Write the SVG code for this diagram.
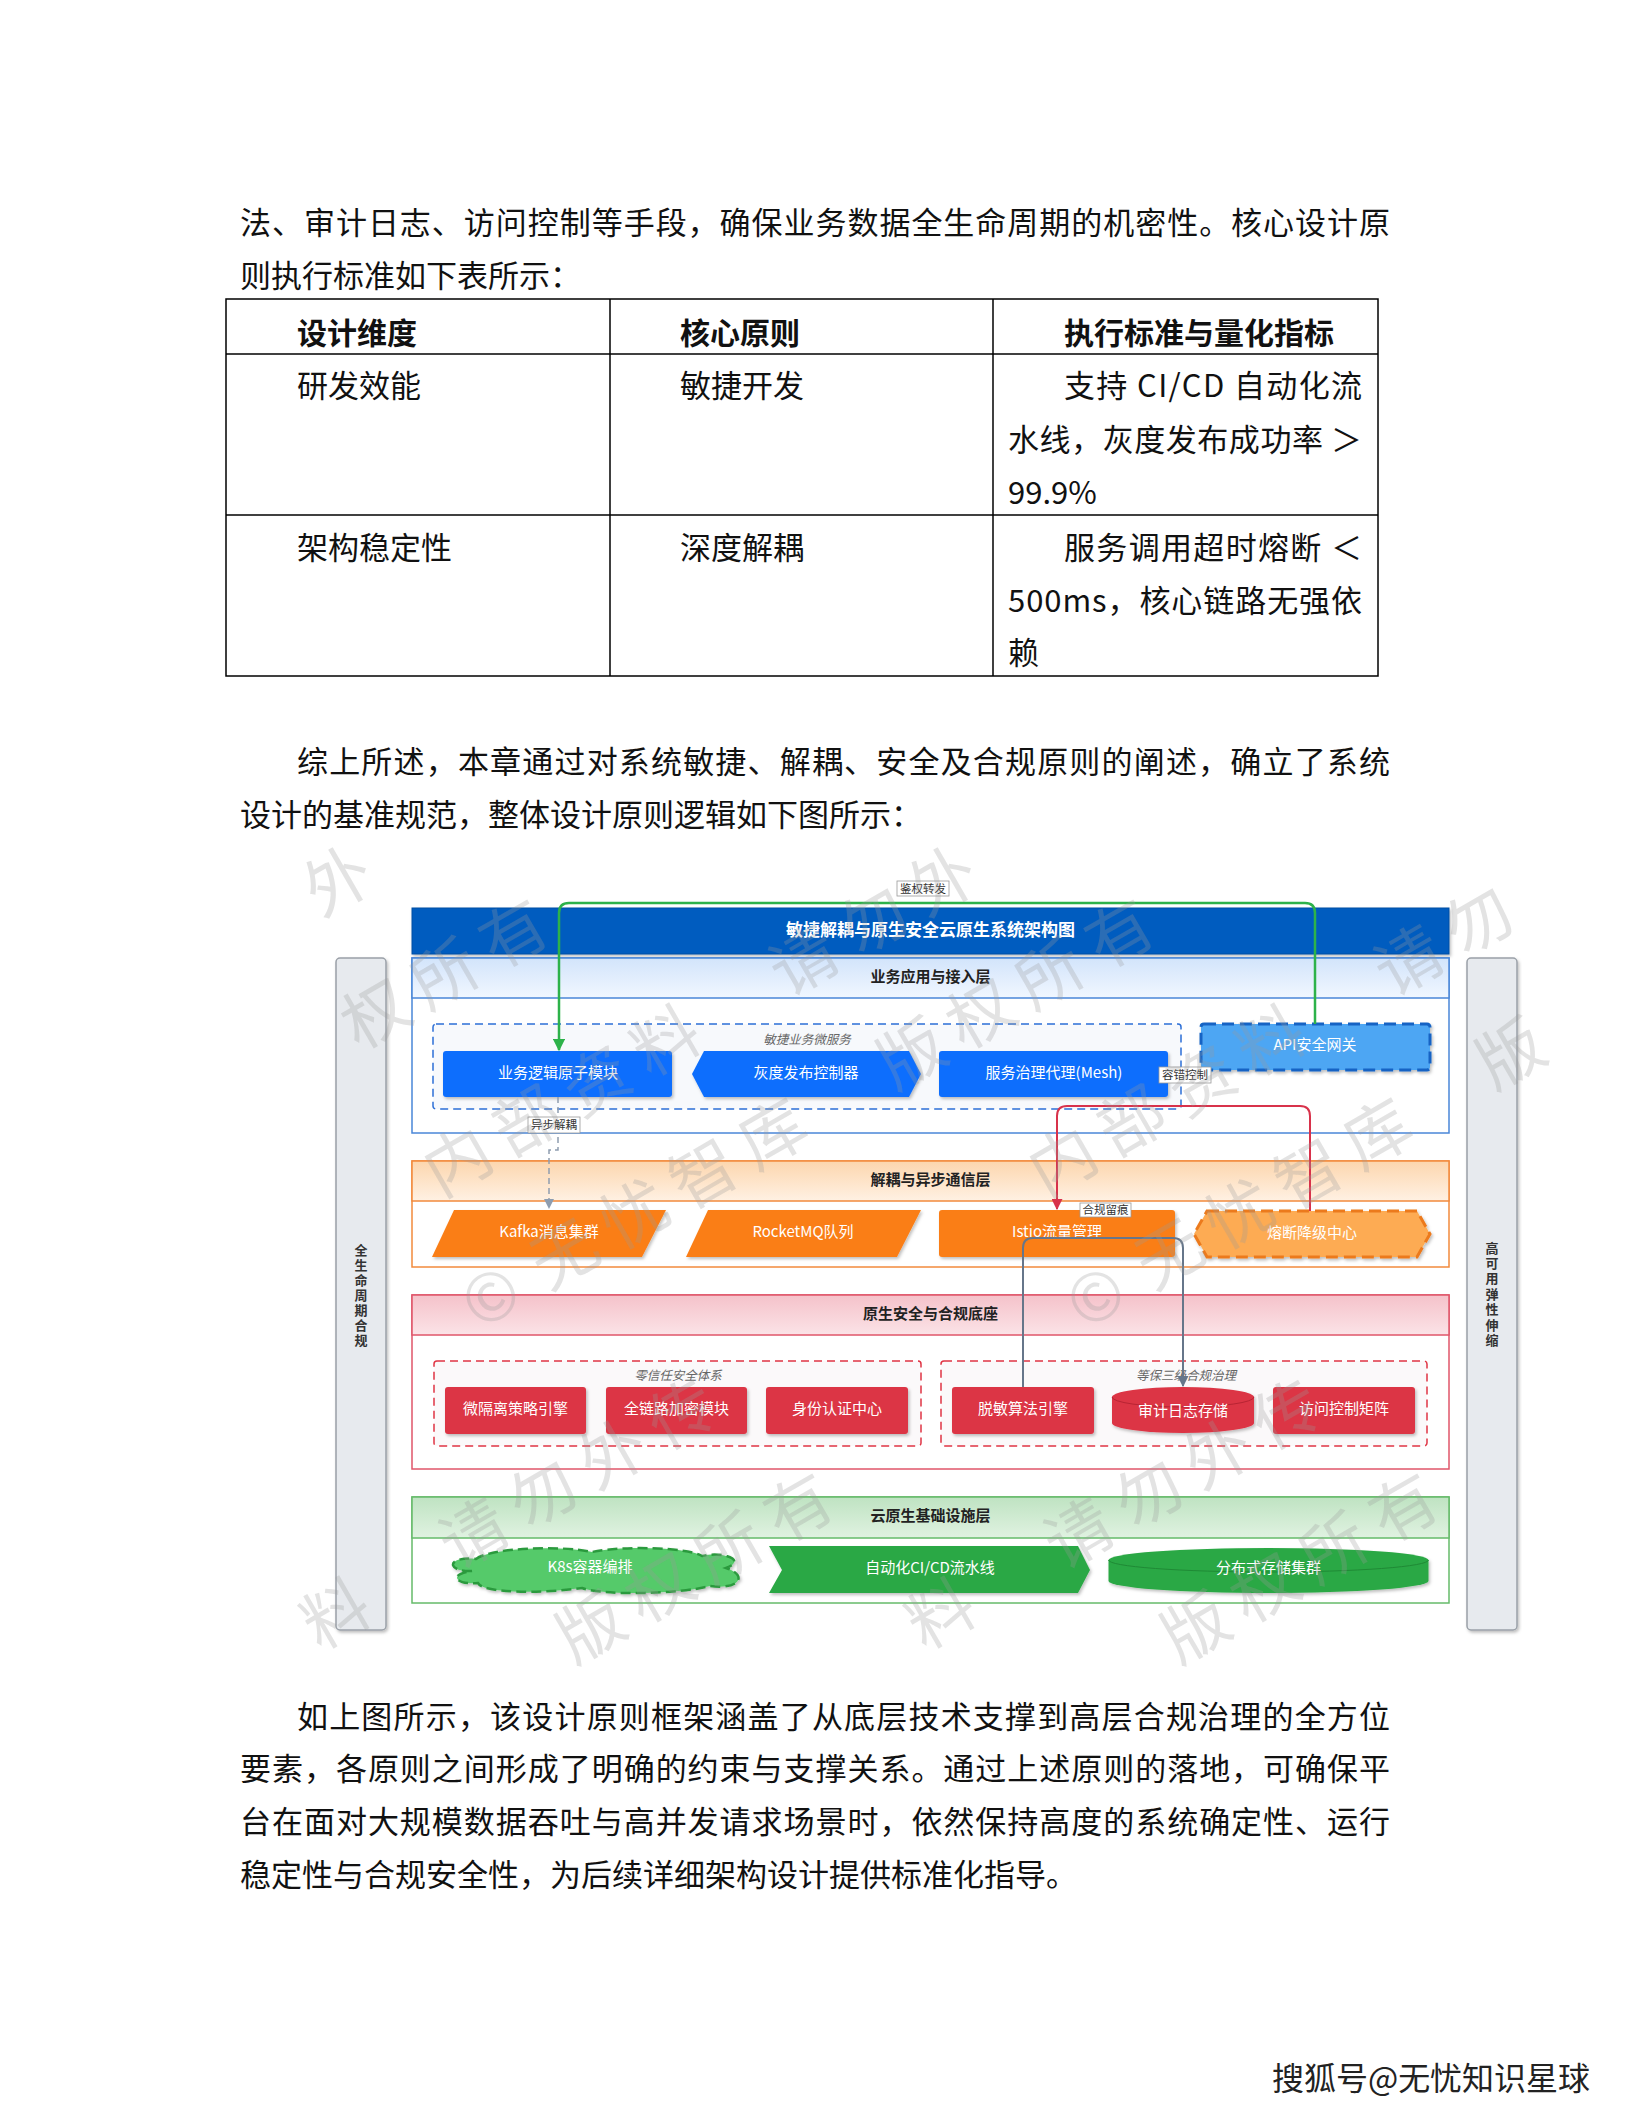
<svg xmlns="http://www.w3.org/2000/svg" width="1632" height="2112" viewBox="0 0 1632 2112">
<style>
.pg{font-family:'Noto Sans CJK SC','Noto Sans',sans-serif;font-size:31px;fill:#111}
.th{font-family:'Noto Sans CJK SC','Noto Sans',sans-serif;font-size:30px;font-weight:bold;fill:#111}
.d{font-family:'Noto Sans CJK SC','Noto Sans',sans-serif}
.nt{font-size:15px;fill:#fff;text-anchor:middle;dominant-baseline:central}
.lh{font-size:15px;font-weight:bold;fill:#222;text-anchor:middle;dominant-baseline:central}
.gl{font-size:12.5px;font-style:italic;fill:#666;text-anchor:middle;dominant-baseline:central}
.el{font-size:11.5px;fill:#333;text-anchor:middle;dominant-baseline:central}
.elb{fill:#fff;stroke:#9a9a9a;stroke-width:0.8}
.vt{font-size:13px;font-weight:bold;fill:#333;text-anchor:middle;dominant-baseline:central}
.blue{fill:#0d6efd}
.red{fill:#dc3545}
.org{fill:#fa7e17}
.grn{fill:#2ba845}
.wm{font-family:'Noto Sans CJK SC',sans-serif;font-size:66px;fill:#9a9a9a;fill-opacity:0.28}
</style>
<defs>
<filter id="sh" x="-10%" y="-20%" width="120%" height="150%"><feDropShadow dx="1.5" dy="2" stdDeviation="1.5" flood-color="#000" flood-opacity="0.25"/></filter>
<linearGradient id="gB" x1="0" y1="0" x2="0" y2="1"><stop offset="0" stop-color="#d2e4fb"/><stop offset="1" stop-color="#f1f7ff"/></linearGradient>
<linearGradient id="gO" x1="0" y1="0" x2="0" y2="1"><stop offset="0" stop-color="#fcd6ae"/><stop offset="1" stop-color="#fff1e3"/></linearGradient>
<linearGradient id="gR" x1="0" y1="0" x2="0" y2="1"><stop offset="0" stop-color="#f5c2ca"/><stop offset="1" stop-color="#fbe3e7"/></linearGradient>
<linearGradient id="gG" x1="0" y1="0" x2="0" y2="1"><stop offset="0" stop-color="#bfe3c2"/><stop offset="1" stop-color="#e0f2e1"/></linearGradient>
<marker id="aG" viewBox="0 0 10 10" refX="9" refY="5" markerWidth="5" markerHeight="5" orient="auto"><path d="M0,0 L10,5 L0,10 z" fill="#2db24a"/></marker>
<marker id="aR" viewBox="0 0 10 10" refX="9" refY="5" markerWidth="5.5" markerHeight="5.5" orient="auto"><path d="M0,0 L10,5 L0,10 z" fill="#d8324b"/></marker>
<marker id="aS" viewBox="0 0 10 10" refX="9" refY="5" markerWidth="5.5" markerHeight="5.5" orient="auto"><path d="M0,0 L10,5 L0,10 z" fill="#66768a"/></marker>
<marker id="aD" viewBox="0 0 10 10" refX="9" refY="5" markerWidth="7" markerHeight="7" orient="auto"><path d="M0,0 L10,5 L0,10 z" fill="#8e9db0"/></marker>
</defs>
<rect width="1632" height="2112" fill="#fff"/>

<g id="page-text">
<text class="pg" x="240" y="234" textLength="1150" lengthAdjust="spacing">法、审计日志、访问控制等手段，确保业务数据全生命周期的机密性。核心设计原</text>
<text class="pg" x="240" y="287">则执行标准如下表所示：</text>
<text class="pg" x="297" y="773" textLength="1093" lengthAdjust="spacing">综上所述，本章通过对系统敏捷、解耦、安全及合规原则的阐述，确立了系统</text>
<text class="pg" x="240" y="826">设计的基准规范，整体设计原则逻辑如下图所示：</text>
<text class="pg" x="297" y="1728" textLength="1093" lengthAdjust="spacing">如上图所示，该设计原则框架涵盖了从底层技术支撑到高层合规治理的全方位</text>
<text class="pg" x="240" y="1780" textLength="1150" lengthAdjust="spacing">要素，各原则之间形成了明确的约束与支撑关系。通过上述原则的落地，可确保平</text>
<text class="pg" x="240" y="1833" textLength="1150" lengthAdjust="spacing">台在面对大规模数据吞吐与高并发请求场景时，依然保持高度的系统确定性、运行</text>
<text class="pg" x="240" y="1886">稳定性与合规安全性，为后续详细架构设计提供标准化指导。</text>
</g>

<g id="table">
<rect x="226" y="299" width="1152" height="377" fill="none" stroke="#000" stroke-width="1.5"/>
<line x1="226" y1="354" x2="1378" y2="354" stroke="#000" stroke-width="1.5"/>
<line x1="226" y1="515" x2="1378" y2="515" stroke="#000" stroke-width="1.5"/>
<line x1="610" y1="299" x2="610" y2="676" stroke="#000" stroke-width="1.5"/>
<line x1="993" y1="299" x2="993" y2="676" stroke="#000" stroke-width="1.5"/>
<text class="th" x="297" y="344">设计维度</text>
<text class="th" x="680" y="344">核心原则</text>
<text class="th" x="1064" y="344">执行标准与量化指标</text>
<text class="pg" x="297" y="397">研发效能</text>
<text class="pg" x="680" y="397">敏捷开发</text>
<text class="pg" x="1064" y="397" textLength="298" lengthAdjust="spacing">支持 CI/CD 自动化流</text>
<text class="pg" x="1008" y="451" textLength="354" lengthAdjust="spacing">水线，灰度发布成功率 ＞</text>
<text class="pg" x="1008" y="504">99.9%</text>
<text class="pg" x="297" y="559">架构稳定性</text>
<text class="pg" x="680" y="559">深度解耦</text>
<text class="pg" x="1064" y="559" textLength="298" lengthAdjust="spacing">服务调用超时熔断 ＜</text>
<text class="pg" x="1008" y="612" textLength="354" lengthAdjust="spacing">500ms，核心链路无强依</text>
<text class="pg" x="1008" y="664">赖</text>
</g>

<g id="diagram" class="d">
<g id="side-left"><rect x="336" y="958" width="50" height="672" rx="4" fill="#e7eaee" stroke="#9aa0a8" stroke-width="1.5" filter="url(#sh)"/>
<text class="vt" x="361" y="1249">全</text><text class="vt" x="361" y="1264">生</text><text class="vt" x="361" y="1279">命</text><text class="vt" x="361" y="1294">周</text><text class="vt" x="361" y="1309">期</text><text class="vt" x="361" y="1324">合</text><text class="vt" x="361" y="1339">规</text></g>
<g id="side-right"><rect x="1467" y="958" width="50" height="672" rx="4" fill="#e7eaee" stroke="#9aa0a8" stroke-width="1.5" filter="url(#sh)"/>
<text class="vt" x="1492" y="1247">高</text><text class="vt" x="1492" y="1262">可</text><text class="vt" x="1492" y="1277">用</text><text class="vt" x="1492" y="1293">弹</text><text class="vt" x="1492" y="1308">性</text><text class="vt" x="1492" y="1324">伸</text><text class="vt" x="1492" y="1339">缩</text></g>

<g id="title"><rect x="412" y="908" width="1037" height="46" fill="#065bbf" stroke="#064ea3" stroke-width="1" filter="url(#sh)"/>
<text x="930.5" y="928" font-size="17" font-weight="bold" fill="#fff" text-anchor="middle" dominant-baseline="central">敏捷解耦与原生安全云原生系统架构图</text></g>

<g id="layer-app"><rect x="412" y="958" width="1037" height="175" fill="#fff" stroke="#4a86d8" stroke-width="1.5"/>
<rect x="412" y="958" width="1037" height="40" fill="url(#gB)" stroke="#4a86d8" stroke-width="1.5"/>
<text class="lh" x="930.5" y="975.5">业务应用与接入层</text></g>
<g id="layer-mq"><rect x="412" y="1161" width="1037" height="106" fill="#fff" stroke="#f28a3c" stroke-width="1.5"/>
<rect x="412" y="1161" width="1037" height="40" fill="url(#gO)" stroke="#f28a3c" stroke-width="1.5"/>
<text class="lh" x="930.5" y="1178.5">解耦与异步通信层</text></g>
<g id="layer-sec"><rect x="412" y="1295" width="1037" height="174" fill="#fff" stroke="#e0566a" stroke-width="1.5"/>
<rect x="412" y="1295" width="1037" height="40" fill="url(#gR)" stroke="#e0566a" stroke-width="1.5"/>
<text class="lh" x="930.5" y="1312.5">原生安全与合规底座</text></g>
<g id="layer-infra"><rect x="412" y="1497" width="1037" height="106" fill="#fff" stroke="#66bb6a" stroke-width="1.5"/>
<rect x="412" y="1497" width="1037" height="41" fill="url(#gG)" stroke="#66bb6a" stroke-width="1.5"/>
<text class="lh" x="930.5" y="1514.5">云原生基础设施层</text></g>

<g id="grp-agile"><rect x="433" y="1024" width="748" height="85" rx="3" fill="#f7f9fc" stroke="#2d6fd6" stroke-width="1.5" stroke-dasharray="8 5"/>
<text class="gl" x="807" y="1038">敏捷业务微服务</text></g>
<g id="grp-zt"><rect x="434" y="1361" width="487" height="85" rx="3" fill="#fbf9fa" stroke="#e03444" stroke-width="1.5" stroke-dasharray="8 5"/>
<text class="gl" x="678" y="1374">零信任安全体系</text></g>
<g id="grp-mlps"><rect x="941" y="1361" width="486" height="85" rx="3" fill="#fbf9fa" stroke="#e03444" stroke-width="1.5" stroke-dasharray="8 5"/>
<text class="gl" x="1186" y="1374">等保三级合规治理</text></g>

<g id="n-logic"><rect class="blue" x="443" y="1051" width="229" height="46" rx="3" filter="url(#sh)"/><text class="nt" x="558" y="1071.5">业务逻辑原子模块</text></g>
<g id="n-gray"><polygon class="blue" points="704,1051 909,1051 921,1074 909,1097 704,1097 692,1074" filter="url(#sh)"/><text class="nt" x="806" y="1071.5">灰度发布控制器</text></g>
<g id="n-mesh"><rect class="blue" x="939" y="1051" width="229" height="46" rx="3" filter="url(#sh)"/><text class="nt" x="1054" y="1071.5">服务治理代理(Mesh)</text></g>
<g id="n-api"><rect x="1201" y="1024" width="229" height="46" rx="3" fill="#4ea6f3" stroke="#1463c4" stroke-width="3" stroke-dasharray="12 6" filter="url(#sh)"/><text class="nt" x="1315" y="1043.5">API安全网关</text></g>

<g id="n-kafka"><polygon class="org" points="454,1210 666,1210 642,1257 432,1257" filter="url(#sh)"/><text class="nt" x="549" y="1230.5">Kafka消息集群</text></g>
<g id="n-rocket"><polygon class="org" points="708,1210 921,1210 897,1257 686,1257" filter="url(#sh)"/><text class="nt" x="803" y="1230.5">RocketMQ队列</text></g>
<g id="n-istio"><rect class="org" x="939" y="1210" width="236" height="47" rx="3" filter="url(#sh)"/><text class="nt" x="1057" y="1230.5">Istio流量管理</text></g>
<g id="n-cb"><polygon points="1207,1211 1417,1211 1430,1234 1417,1257 1207,1257 1194,1234" fill="#fdab52" stroke="#ec7a1c" stroke-width="3" stroke-dasharray="12 6" filter="url(#sh)"/><text class="nt" x="1312" y="1231.5">熔断降级中心</text></g>

<g id="n-micro"><rect class="red" x="445" y="1387" width="141" height="47" rx="3" filter="url(#sh)"/><text class="nt" x="515.5" y="1407.5">微隔离策略引擎</text></g>
<g id="n-enc"><rect class="red" x="606" y="1387" width="141" height="47" rx="3" filter="url(#sh)"/><text class="nt" x="676.5" y="1407.5">全链路加密模块</text></g>
<g id="n-auth"><rect class="red" x="766" y="1387" width="142" height="47" rx="3" filter="url(#sh)"/><text class="nt" x="837" y="1407.5">身份认证中心</text></g>
<g id="n-mask"><rect class="red" x="952" y="1387" width="142" height="47" rx="3" filter="url(#sh)"/><text class="nt" x="1023" y="1407.5">脱敏算法引擎</text></g>
<g id="n-audit"><path class="red" d="M1112,1397 V1423 A71,10 0 0 0 1254,1423 V1397 A71,10 0 0 0 1112,1397 Z" filter="url(#sh)"/><path d="M1112,1397 A71,10 0 0 0 1254,1397" fill="none" stroke="#b82433" stroke-width="1"/><text class="nt" x="1183" y="1409">审计日志存储</text></g>
<g id="n-acl"><rect class="red" x="1273" y="1387" width="142" height="47" rx="3" filter="url(#sh)"/><text class="nt" x="1344" y="1407.5">访问控制矩阵</text></g>

<g id="n-k8s"><path d="M472,1571 C446,1572 446,1556 476,1559 C490,1548 560,1545 592,1552 C625,1545 690,1548 702,1556 C722,1551 748,1560 726,1568 C748,1575 740,1590 710,1586 C680,1594 604,1596 582,1588 C540,1594 482,1593 478,1583 C455,1585 448,1574 472,1571 Z" fill="#55ca6b" stroke="#2c9a3e" stroke-width="2.5" stroke-dasharray="10 5" filter="url(#sh)"/><text class="nt" x="590" y="1565.5">K8s容器编排</text></g>
<g id="n-cicd"><polygon class="grn" points="769,1546 1078,1546 1090,1570 1078,1593 769,1593 782,1570" filter="url(#sh)"/><text class="nt" x="930" y="1566.5">自动化CI/CD流水线</text></g>
<g id="n-store"><path class="grn" d="M1108.5,1560 V1581 A160,12 0 0 0 1428.5,1581 V1560 A160,12 0 0 0 1108.5,1560 Z" filter="url(#sh)"/><path d="M1108.5,1560 A160,12 0 0 0 1428.5,1560" fill="none" stroke="#1f8a35" stroke-width="1"/><text class="nt" x="1268.5" y="1566.5">分布式存储集群</text></g>
</g>

<g id="connectors" class="d" fill="none">
<path d="M1315,1024 V913 Q1315,903 1305,903 H569 Q559,903 559,913 V1050" stroke="#2db24a" stroke-width="2.5" marker-end="url(#aG)"/>
<path d="M558,1097 V1150 H549 V1208" stroke="#8e9db0" stroke-width="1.5" stroke-dasharray="6 4" marker-end="url(#aD)"/>
<path d="M1310,1211 V1116 Q1310,1106 1300,1106 H1067 Q1057,1106 1057,1116 V1209" stroke="#d8324b" stroke-width="2" marker-end="url(#aR)"/>
<path d="M1023,1387 V1248 Q1023,1238 1033,1238 H1173 Q1183,1238 1183,1248 V1386" stroke="#66768a" stroke-width="2" marker-end="url(#aS)"/>
<rect class="elb" x="897" y="881" width="52" height="15"/><text class="el" x="923" y="887.5">鉴权转发</text>
<rect class="elb" x="528" y="1117" width="52" height="16"/><text class="el" x="554" y="1124">异步解耦</text>
<rect class="elb" x="1159" y="1067" width="52" height="16"/><text class="el" x="1185" y="1074">容错控制</text>
<rect class="elb" x="1080" y="1203" width="51" height="14"/><text class="el" x="1105.5" y="1209">合规留痕</text>
</g>

<g id="watermark">
<text class="wm" transform="translate(321 918) rotate(-30)">外</text>
<text class="wm" transform="translate(441 1198) rotate(-30)">内</text>
<text class="wm" transform="translate(510 1158) rotate(-30)">部</text>
<text class="wm" transform="translate(580 1118) rotate(-30)">资</text>
<text class="wm" transform="translate(649 1078) rotate(-30)">料</text>
<text class="wm" transform="translate(787 998) rotate(-30)">请</text>
<text class="wm" transform="translate(857 958) rotate(-30)">勿</text>
<text class="wm" transform="translate(926 918) rotate(-30)">外</text>
<text class="wm" transform="translate(1046 1198) rotate(-30)">内</text>
<text class="wm" transform="translate(1115 1158) rotate(-30)">部</text>
<text class="wm" transform="translate(1185 1118) rotate(-30)">资</text>
<text class="wm" transform="translate(1254 1078) rotate(-30)">料</text>
<text class="wm" transform="translate(1392 998) rotate(-30)">请</text>
<text class="wm" transform="translate(1462 958) rotate(-30)">勿</text>
<text class="wm" transform="translate(359 1051) rotate(-30)">权</text>
<text class="wm" transform="translate(428 1011) rotate(-30)">所</text>
<text class="wm" transform="translate(497 971) rotate(-30)">有</text>
<text class="wm" transform="translate(479 1331) rotate(-30)">©</text>
<text class="wm" transform="translate(548 1291) rotate(-30)">无</text>
<text class="wm" transform="translate(618 1251) rotate(-30)">忧</text>
<text class="wm" transform="translate(687 1211) rotate(-30)">智</text>
<text class="wm" transform="translate(756 1171) rotate(-30)">库</text>
<text class="wm" transform="translate(895 1091) rotate(-30)">版</text>
<text class="wm" transform="translate(964 1051) rotate(-30)">权</text>
<text class="wm" transform="translate(1033 1011) rotate(-30)">所</text>
<text class="wm" transform="translate(1103 971) rotate(-30)">有</text>
<text class="wm" transform="translate(1084 1331) rotate(-30)">©</text>
<text class="wm" transform="translate(1153 1291) rotate(-30)">无</text>
<text class="wm" transform="translate(1223 1251) rotate(-30)">忧</text>
<text class="wm" transform="translate(1292 1211) rotate(-30)">智</text>
<text class="wm" transform="translate(1361 1171) rotate(-30)">库</text>
<text class="wm" transform="translate(1494 1091) rotate(-30)">版</text>
<text class="wm" transform="translate(319 1651) rotate(-30)">料</text>
<text class="wm" transform="translate(457 1571) rotate(-30)">请</text>
<text class="wm" transform="translate(526 1531) rotate(-30)">勿</text>
<text class="wm" transform="translate(596 1491) rotate(-30)">外</text>
<text class="wm" transform="translate(665 1451) rotate(-30)">传</text>
<text class="wm" transform="translate(924 1651) rotate(-30)">料</text>
<text class="wm" transform="translate(1062 1571) rotate(-30)">请</text>
<text class="wm" transform="translate(1132 1531) rotate(-30)">勿</text>
<text class="wm" transform="translate(1201 1491) rotate(-30)">外</text>
<text class="wm" transform="translate(1270 1451) rotate(-30)">传</text>
<text class="wm" transform="translate(574 1665) rotate(-30)">版</text>
<text class="wm" transform="translate(643 1625) rotate(-30)">权</text>
<text class="wm" transform="translate(712 1585) rotate(-30)">所</text>
<text class="wm" transform="translate(782 1545) rotate(-30)">有</text>
<text class="wm" transform="translate(1179 1665) rotate(-30)">版</text>
<text class="wm" transform="translate(1248 1625) rotate(-30)">权</text>
<text class="wm" transform="translate(1317 1585) rotate(-30)">所</text>
<text class="wm" transform="translate(1387 1545) rotate(-30)">有</text>
</g>

<g id="sohu"><text x="1272" y="2090" textLength="318" lengthAdjust="spacing" font-family="'Noto Sans CJK SC',sans-serif" font-size="32" fill="#222" stroke="#fff" stroke-width="2.5" paint-order="stroke">搜狐号@无忧知识星球</text></g>
</svg>
